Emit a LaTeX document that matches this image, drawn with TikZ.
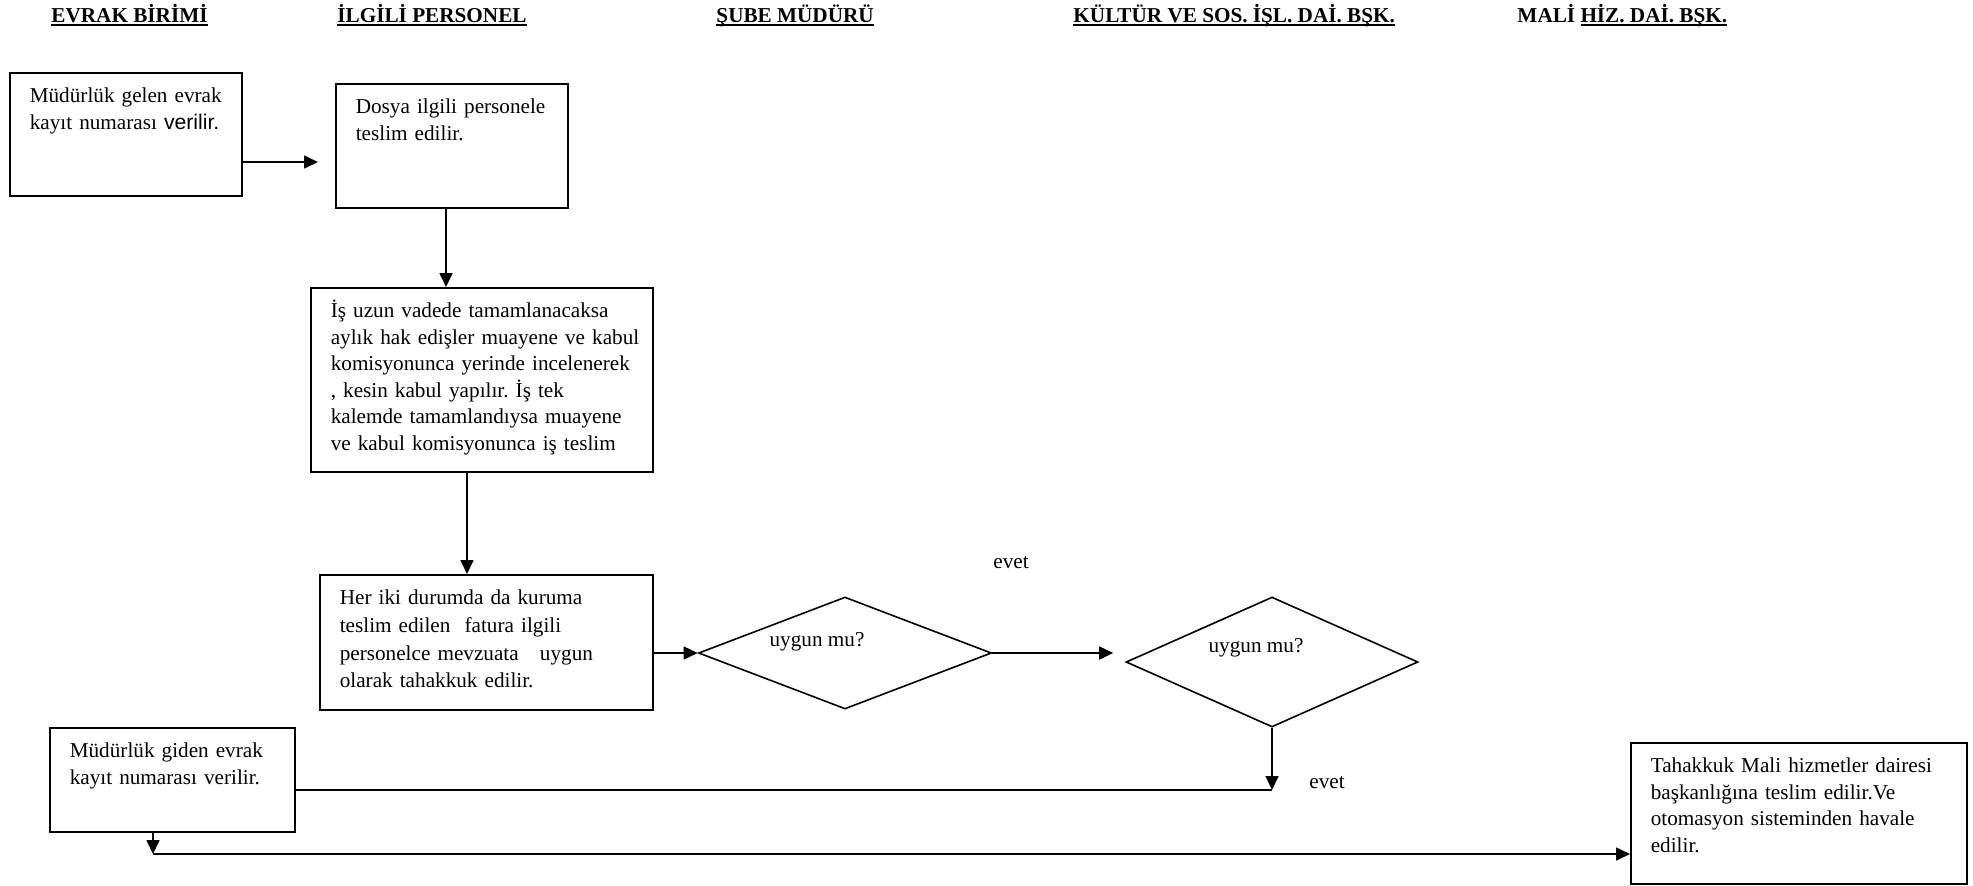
\documentclass[tikz,border=0pt]{standalone}
\usepackage{fontspec}
\setmainfont{Liberation Serif}
\setsansfont{Liberation Sans}
\usetikzlibrary{arrows.meta,shapes.geometric}
\frenchspacing
\newcommand{\bodyfont}{\fontsize{10.6pt}{13.25pt}\selectfont}
\newcommand{\rows}[2][1]{\renewcommand{\arraystretch}{#1}%
  \begin{tabular}[t]{@{}l@{}}#2\end{tabular}}
\newcommand{\uline}[1]{\setbox0\hbox{#1}%
  \rlap{\vrule height -1pt depth 2pt width \wd0}\box0}

\begin{document}
\begin{tikzpicture}[x=0.5pt,y=-0.5pt,font=\bodyfont,line width=0.8pt,
  box/.style 2 args={draw,anchor=north west,inner xsep=10pt,inner ysep=0pt,
    text height=15pt,text width=#1,text depth=#2},
  dia/.style 2 args={draw,diamond,inner sep=0pt,minimum width=#1,minimum height=#2},
  arr/.style={-{Triangle[length=7pt,width=6.5pt]}},
  head/.style={anchor=base west,font=\bodyfont\bfseries}]
\useasboundingbox (0,0) rectangle (1973,885);
%% headings
\node[head] (hEvrak) at (44,22) {\uline{EVRAK BİRİMİ}};
\node[head] (hPersonel) at (330,22) {\uline{İLGİLİ PERSONEL}};
\node[head] (hSube) at (709,22) {\uline{ŞUBE MÜDÜRÜ}};
\node[head] (hKultur) at (1066,22) {\uline{KÜLTÜR VE SOS. İŞL. DAİ. BŞK.}};
\node[head] (hMali) at (1510,22) {MALİ \uline{HİZ. DAİ. BŞK.}};
%% nodes
\node[box={96pt}{46.5pt}] (gelen) at (9,72)
  {\rows{Müdürlük gelen evrak\\kayıt numarası {\sffamily verilir.}}};
\node[box={96pt}{47pt}] (dosya) at (335,83)
  {\rows{Dosya ilgili personele\\teslim edilir.}};
\node[box={151pt}{77pt}] (uzun) at (310,287)
  {\rows{İş uzun vadede tamamlanacaksa\\aylık hak edişler muayene ve kabul\\
   komisyonunca yerinde incelenerek\\, kesin kabul yapılır. İş tek\\
   kalemde tamamlandıysa muayene\\ve kabul komisyonunca iş teslim}};
\node[box={146.5pt}{52.5pt}] (fatura) at (319,574)
  {\rows[1.045]{Her iki durumda da kuruma\\teslim edilen\ \ fatura ilgili\\
   personelce mevzuata\ \ \ uygun\\olarak tahakkuk edilir.}};
\node[dia={146.5pt}{56pt},label={[xshift=-14pt,yshift=5.5pt]center:uygun mu?}] (uygun1) at (845,653) {};
\node[dia={146pt}{65pt},label={[xshift=-8pt,yshift=7pt]center:uygun mu?}] (uygun2) at (1272,662) {};
\node (evet1) at (1011,563) {evet};
\node (evet2) at (1327,783) {evet};
\node[box={102.5pt}{37pt}] (giden) at (49,727)
  {\rows{Müdürlük giden evrak\\kayıt numarası verilir.}};
\node[box={148pt}{55.5pt}] (tahakkuk) at (1630,742)
  {\rows{Tahakkuk Mali hizmetler dairesi\\başkanlığına teslim edilir.Ve\\
   otomasyon sisteminden havale\\edilir.}};
\coordinate (k1) at (uygun2.south |- 0,790);
\coordinate (k2) at (153,854);
%%% edges
\draw[arr,shorten >=8.5pt] (gelen.east |- 0,162) -- (dosya.west |- 0,162);
\draw[arr] (dosya.south -| 446,0) -- (uzun.north -| 446,0);
\draw[arr] (uzun.south -| 467,0) -- (fatura.north -| 467,0);
\draw[arr] (fatura.east |- uygun1.west) -- (uygun1.west);
\draw[arr,shorten >=6pt] (uygun1.east) -- (uygun2.west |- uygun1.east);
\draw[arr] (uygun2.south) -- (k1);
\draw (k1) -- (giden.east |- k1);
\draw[arr] (giden.south -| k2) -- (k2);
\draw[arr] (k2) -- (tahakkuk.west |- k2);
\end{tikzpicture}
\end{document}
